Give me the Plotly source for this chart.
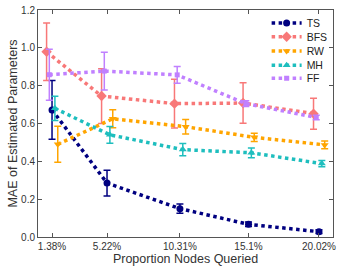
import plotly.graph_objects as go

x_vals = [1.38, 5.22, 10.31, 15.1, 20.02]
x_labels = ["1.38%", "5.22%", "10.31%", "15.1%", "20.02%"]

series_names = ["TS", "BFS", "RW", "MH", "FF"]
ts = [0.672, 0.285, 0.15, 0.067, 0.028]
ts_err = [0.155, 0.068, 0.025, 0.012, 0.01]
bfs = [0.979, 0.745, 0.705, 0.708, 0.652]
bfs_err = [0.152, 0.145, 0.129, 0.107, 0.082]
rw = [0.49, 0.625, 0.583, 0.527, 0.487]
rw_err = [0.095, 0.048, 0.038, 0.022, 0.02]
mh = [0.68, 0.54, 0.462, 0.445, 0.388]
mh_err = [0.064, 0.044, 0.032, 0.026, 0.017]
ff = [0.858, 0.877, 0.857, 0.705, 0.632]
ff_err = [0.135, 0.1, 0.044, 0.015, 0.012]

offsets = {"TS": 0.0, "BFS": -0.38, "RW": 0.4, "MH": 0.2, "FF": -0.19}
colors = {"TS": "#000080", "BFS": "#F87878", "RW": "#FFA500", "MH": "#1EBEBE", "FF": "#C080FF"}
symbols = {"TS": "circle", "BFS": "diamond", "RW": "triangle-down", "MH": "triangle-up", "FF": "square"}
sizes = {"TS": 7, "BFS": 8, "RW": 7, "MH": 7, "FF": 5}
data = {"TS": (ts, ts_err), "BFS": (bfs, bfs_err), "RW": (rw, rw_err), "MH": (mh, mh_err), "FF": (ff, ff_err)}
legend_ids = ["legend", "legend2", "legend3", "legend4", "legend5"]
legend_y = [0.943, 0.882, 0.819, 0.757, 0.699]

fig = go.Figure()
for name, lid in zip(series_names, legend_ids):
    y, e = data[name]
    c = colors[name]
    fig.add_trace(go.Scatter(
        x=[v + offsets[name] for v in x_vals], y=y, name=name,
        mode="lines+markers", legend=lid,
        line=dict(color=c, width=3.5, dash="3.5px,3.5px"),
        marker=dict(symbol=symbols[name], size=sizes[name], color=c),
        error_y=dict(type="data", array=e, visible=True, color=c, thickness=1.5, width=3.5),
    ))

axis_common = dict(showline=True, linecolor="#555555", linewidth=1, mirror="ticks",
                   ticks="inside", ticklen=4, tickcolor="#555555", showgrid=False,
                   zeroline=False, automargin=False, tickfont=dict(size=10, color="#333333"))

layout_legends = {}
for lid, ly in zip(legend_ids, legend_y):
    layout_legends[lid] = dict(x=0.775, y=ly, xanchor="left", yanchor="middle",
                               bgcolor="rgba(255,255,255,0)", font=dict(size=10.5, color="#222222"),
                               itemwidth=30, borderwidth=0)

fig.update_layout(
    width=341, height=271,
    margin=dict(l=38, r=8, t=8, b=34),
    paper_bgcolor="white", plot_bgcolor="white",
    font=dict(family="Liberation Sans, Arial, sans-serif", color="#333333"),
    showlegend=True,
    xaxis=dict(range=[0.4, 21.0], tickvals=x_vals, ticktext=x_labels,
               title=dict(text="Proportion Nodes Queried", font=dict(size=12.5, color="#333333"), standoff=2),
               **axis_common),
    yaxis=dict(range=[0, 1.2], tickvals=[0, 0.2, 0.4, 0.6, 0.8, 1.0, 1.2], tickformat=".1f",
               title=dict(text="MAE of Estimated Parameters", font=dict(size=12.5, color="#333333"), standoff=0),
               **axis_common),
    **layout_legends,
)

fig.write_html("out.html", config={"displayModeBar": False},
               post_script="document.body.style.margin='0';document.body.style.overflow='hidden';")
